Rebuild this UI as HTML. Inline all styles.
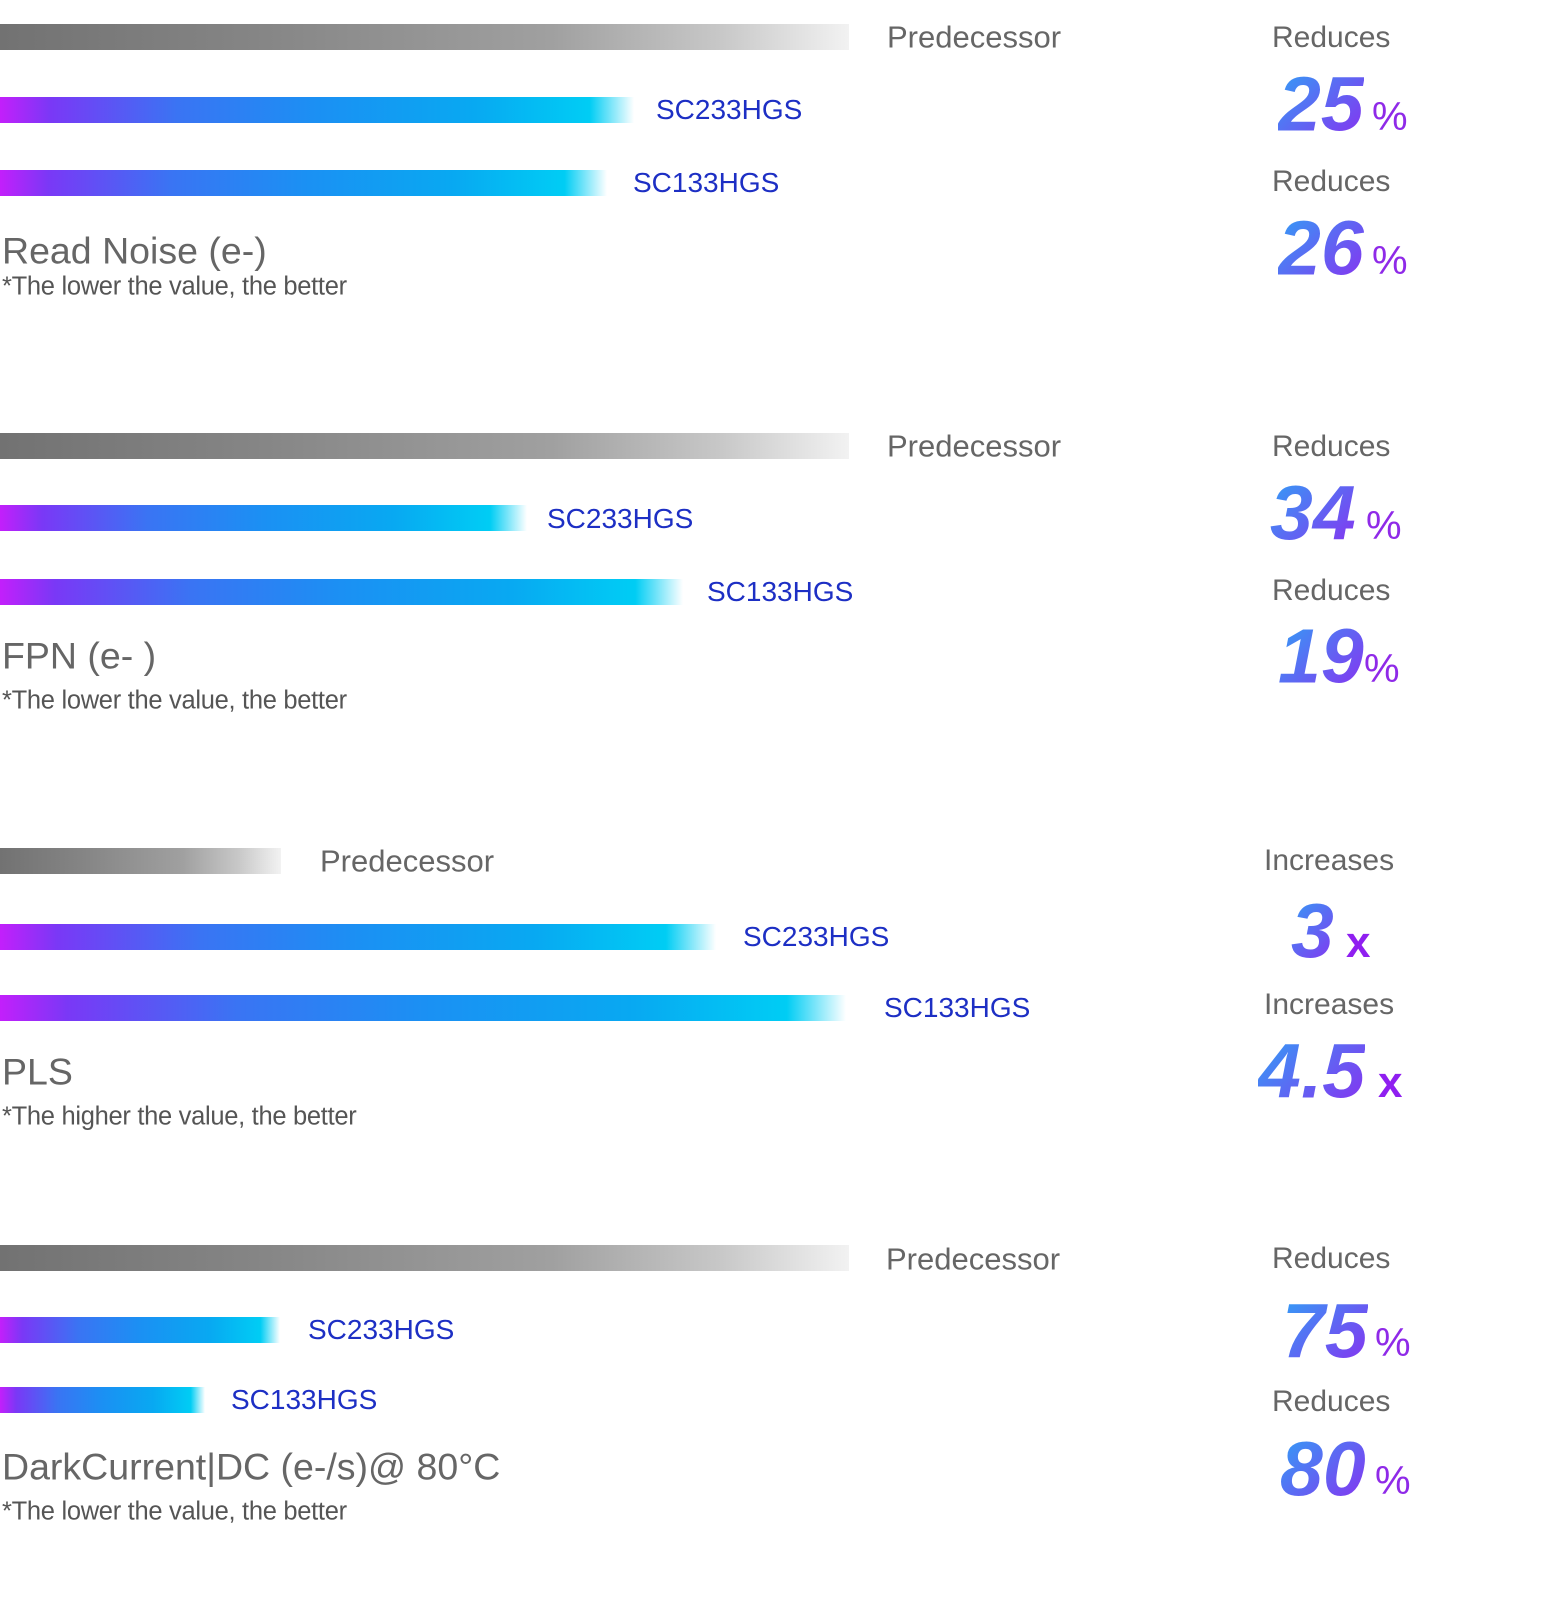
<!DOCTYPE html>
<html><head><meta charset="utf-8"><style>
html,body{margin:0;padding:0;background:#fff;}
body{width:1551px;height:1604px;position:relative;overflow:hidden;font-family:"Liberation Sans","DejaVu Sans",sans-serif;}
.bar{position:absolute;left:0;height:26px;}
.g{background:linear-gradient(90deg,#727272 0%,#858585 30%,#a0a0a0 65%,#c8c8c8 85%,#f2f2f2 100%);}
.b{background:linear-gradient(90deg,#c31ffb 0%,#7a38f6 8%,#3a74f3 28%,#1b90f3 50%,#08a9f2 75%,#00cdf4 93%,#ffffff 100%);}
.t{position:absolute;line-height:1;white-space:nowrap;transform:translateY(-50%);}
.lbl{font-size:31px;color:#666;}
.sc{font-size:28px;color:#1d2fc4;}
.title{font-size:37.5px;color:#666;}
.sub{font-size:25.5px;color:#555;letter-spacing:-0.3px;}
.rd{font-size:30px;color:#666;}
.num{font-size:77px;font-weight:bold;font-style:italic;background:linear-gradient(135deg,#2fa2f6 0%,#5a6cf3 45%,#8a2ef0 100%);-webkit-background-clip:text;background-clip:text;color:transparent;}
.pc{font-size:40px;color:#8f2ae8;}
.x{font-size:44px;font-weight:bold;color:#8f1ff0;}
</style></head><body>

<div class="bar g" style="top:24px;width:849px"></div>
<div class="t lbl" style="left:887px;top:37px">Predecessor</div>
<div class="bar b" style="top:97px;width:634px"></div>
<div class="t sc" style="left:656px;top:110px">SC233HGS</div>
<div class="bar b" style="top:170px;width:607px"></div>
<div class="t sc" style="left:633px;top:183px">SC133HGS</div>
<div class="t title" style="left:2px;top:251px">Read Noise (e-)</div>
<div class="t sub" style="left:2px;top:287px">*The lower the value, the better</div>
<div class="t rd" style="left:1272px;top:38px">Reduces</div>
<div class="t num" style="left:1278px;top:105px">25</div>
<div class="t pc" style="left:1372px;top:117px">%</div>
<div class="t rd" style="left:1272px;top:182px">Reduces</div>
<div class="t num" style="left:1278px;top:249px">26</div>
<div class="t pc" style="left:1372px;top:261px">%</div>

<div class="bar g" style="top:433px;width:849px"></div>
<div class="t lbl" style="left:887px;top:446px">Predecessor</div>
<div class="bar b" style="top:505px;width:527px"></div>
<div class="t sc" style="left:547px;top:519px">SC233HGS</div>
<div class="bar b" style="top:579px;width:683px"></div>
<div class="t sc" style="left:707px;top:592px">SC133HGS</div>
<div class="t title" style="left:2px;top:656px">FPN (e- )</div>
<div class="t sub" style="left:2px;top:701px">*The lower the value, the better</div>
<div class="t rd" style="left:1272px;top:447px">Reduces</div>
<div class="t num" style="left:1270px;top:514px">34</div>
<div class="t pc" style="left:1366px;top:526px">%</div>
<div class="t rd" style="left:1272px;top:591px">Reduces</div>
<div class="t num" style="left:1278px;top:657px">19</div>
<div class="t pc" style="left:1364px;top:669px">%</div>

<div class="bar g" style="top:848px;width:281px"></div>
<div class="t lbl" style="left:320px;top:861px">Predecessor</div>
<div class="bar b" style="top:924px;width:716px"></div>
<div class="t sc" style="left:743px;top:937px">SC233HGS</div>
<div class="bar b" style="top:995px;width:846px"></div>
<div class="t sc" style="left:884px;top:1008px">SC133HGS</div>
<div class="t title" style="left:2px;top:1072px">PLS</div>
<div class="t sub" style="left:2px;top:1117px">*The higher the value, the better</div>
<div class="t rd" style="left:1264px;top:861px">Increases</div>
<div class="t num" style="left:1291px;top:932px">3</div>
<div class="t x" style="left:1346px;top:943px">x</div>
<div class="t rd" style="left:1264px;top:1005px">Increases</div>
<div class="t num" style="left:1258px;top:1072px">4.5</div>
<div class="t x" style="left:1378px;top:1083px">x</div>

<div class="bar g" style="top:1245px;width:849px"></div>
<div class="t lbl" style="left:886px;top:1259px">Predecessor</div>
<div class="bar b" style="top:1317px;width:280px"></div>
<div class="t sc" style="left:308px;top:1330px">SC233HGS</div>
<div class="bar b" style="top:1387px;width:205px"></div>
<div class="t sc" style="left:231px;top:1400px">SC133HGS</div>
<div class="t title" style="left:2px;top:1467px">DarkCurrent|DC (e-/s)@ 80°C</div>
<div class="t sub" style="left:2px;top:1512px">*The lower the value, the better</div>
<div class="t rd" style="left:1272px;top:1259px">Reduces</div>
<div class="t num" style="left:1282px;top:1332px">75</div>
<div class="t pc" style="left:1375px;top:1343px">%</div>
<div class="t rd" style="left:1272px;top:1402px">Reduces</div>
<div class="t num" style="left:1280px;top:1470px">80</div>
<div class="t pc" style="left:1375px;top:1481px">%</div>

</body></html>
